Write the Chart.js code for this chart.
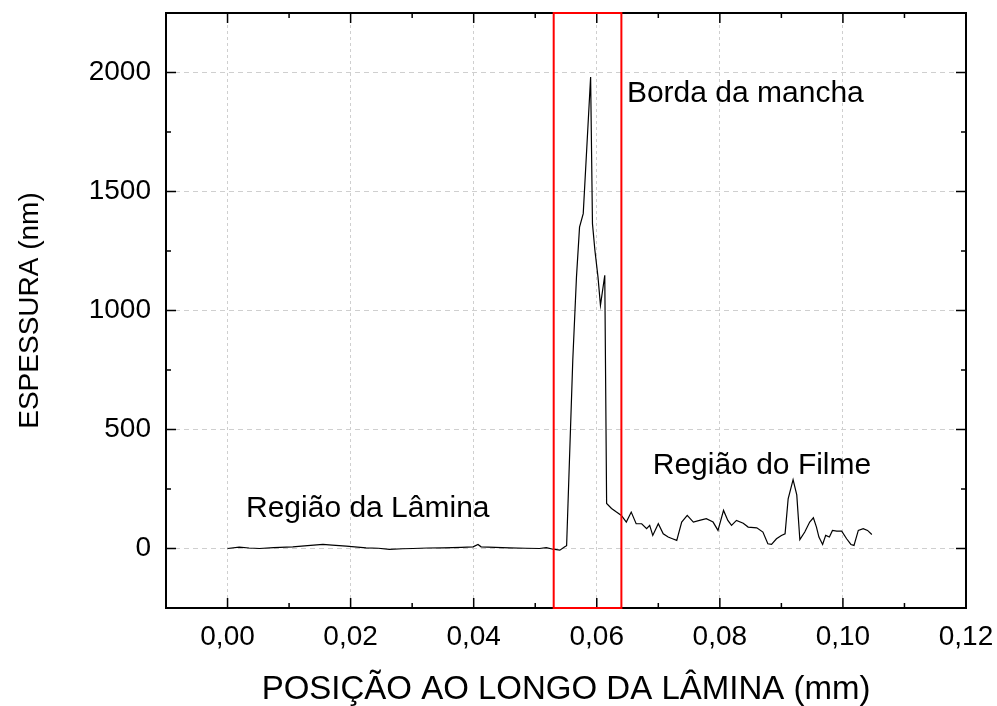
<!DOCTYPE html>
<html>
<head>
<meta charset="utf-8">
<script src="https://cdn.jsdelivr.net/npm/chart.js@4/dist/chart.umd.min.js"></script>
<style>
  html, body { margin: 0; padding: 0; background: #fff; }
  canvas { display: block; }
</style>
</head>
<body>
<canvas id="perfil" width="997" height="706"></canvas>
<script>
// posição ao longo da lâmina (mm)
const posicao = [
  0.0000, 0.0019, 0.0035, 0.0052, 0.0075, 0.0106, 0.0130, 0.0155, 0.0170, 0.0193,
  0.0225, 0.0245, 0.0263, 0.0285, 0.0301, 0.0325, 0.0350, 0.0380, 0.0399, 0.0407,
  0.0412, 0.0435, 0.0458, 0.0485, 0.0507, 0.0518, 0.0529, 0.0540, 0.0548,
  0.0551, 0.0561, 0.0567, 0.0572, 0.0578, 0.0590, 0.0593, 0.0597, 0.0602, 0.0606,
  0.0613, 0.0616, 0.0624, 0.0632, 0.0640, 0.0648, 0.0656, 0.0664, 0.0673, 0.0681,
  0.0686, 0.0691, 0.0700, 0.0708, 0.0716, 0.0723, 0.0730, 0.0738, 0.0747, 0.0757,
  0.0767, 0.0778, 0.0789, 0.0797, 0.0806, 0.0813, 0.0819, 0.0827, 0.0838, 0.0846,
  0.0860, 0.0870, 0.0878, 0.0884, 0.0892, 0.0900, 0.0906, 0.0911, 0.0919, 0.0925,
  0.0930, 0.0938, 0.0946, 0.0952, 0.0957, 0.0961, 0.0967, 0.0972, 0.0978, 0.0983,
  0.0990, 0.0998, 0.1006, 0.1013, 0.1018, 0.1025, 0.1033, 0.1040, 0.1047
];

// espessura (nm)
const espessura = [
  0, 6, 2, 0, 4, 7, 12, 17, 14, 10,
  3, 1, -4, -1, 0, 2, 3, 5, 7, 17,
  7, 5, 3, 1, 0, 4, -3, -7, 7,
  12, 790, 1140, 1350, 1407, 1981, 1365, 1252, 1140, 1022,
  1148, 189, 168, 153, 139, 111, 153, 104, 104, 83,
  97, 55, 104, 62, 48, 41, 34, 111, 139, 111,
  118, 125, 111, 76, 160, 118, 97, 118, 106, 90,
  87, 69, 20, 17, 41, 55, 62, 209, 289, 225,
  37, 69, 111, 129, 90, 48, 17, 55, 48, 76,
  73, 73, 41, 17, 13, 76, 83, 76, 59
];

// região destacada (retângulo vermelho)
const bordaInicio = 0.053;
const bordaFim = 0.064;

// textos dentro do gráfico: [texto, x (mm), y (nm)]
const rotulos = [
  ['Borda da mancha', 0.0649, 1877],
  ['Região do Filme', 0.0691, 311],
  ['Região da Lâmina', 0.0030, 133]
];

const xMin = -0.01, xMax = 0.12, xPasso = 0.01;
const yMin = -250, yMax = 2250, yPasso = 250;

const fonte = 'Arial, "Liberation Sans", sans-serif';

function isMajorX(v) {
  return Math.round(v * 100) % 2 === 0;
}
function isMajorY(v) {
  return Math.round(v) % 500 === 0;
}

const molduraPlugin = {
  id: 'moldura',
  afterDatasetsDraw(chart) {
    const { ctx, chartArea: a, scales: { x, y } } = chart;
    ctx.save();

    // ticks internos nos quatro lados
    ctx.strokeStyle = '#000';
    ctx.lineWidth = 1.5;
    ctx.beginPath();
    x.ticks.forEach(t => {
      const px = x.getPixelForValue(t.value);
      const len = isMajorX(t.value) ? 10 : 5;
      ctx.moveTo(px, a.bottom);
      ctx.lineTo(px, a.bottom - len);
      ctx.moveTo(px, a.top);
      ctx.lineTo(px, a.top + len);
    });
    y.ticks.forEach(t => {
      const py = y.getPixelForValue(t.value);
      const len = isMajorY(t.value) ? 10 : 5;
      ctx.moveTo(a.left, py);
      ctx.lineTo(a.left + len, py);
      ctx.moveTo(a.right, py);
      ctx.lineTo(a.right - len, py);
    });
    ctx.stroke();

    ctx.lineWidth = 2;
    ctx.strokeRect(a.left, a.top, a.right - a.left, a.bottom - a.top);

    // retângulo vermelho
    const x0 = x.getPixelForValue(bordaInicio);
    const x1 = x.getPixelForValue(bordaFim);
    ctx.strokeStyle = '#ff0000';
    ctx.lineWidth = 2;
    ctx.strokeRect(x0, a.top, x1 - x0, a.bottom - a.top);

    // textos
    ctx.fillStyle = '#000';
    ctx.font = '30px ' + fonte;
    ctx.textAlign = 'left';
    ctx.textBaseline = 'alphabetic';
    rotulos.forEach(r => {
      ctx.fillText(r[0], x.getPixelForValue(r[1]), y.getPixelForValue(r[2]));
    });
    ctx.restore();
  }
};

new Chart(document.getElementById('perfil'), {
  type: 'line',
  data: {
    labels: posicao,
    datasets: [{
      data: posicao.map((p, i) => ({ x: p, y: espessura[i] })),
      borderColor: '#000',
      borderWidth: 1.2,
      pointRadius: 0,
      tension: 0,
      fill: false
    }]
  },
  options: {
    responsive: false,
    animation: false,
    devicePixelRatio: 1,
    layout: { padding: { top: 13, right: 31, left: 0, bottom: 0 } },
    plugins: {
      legend: { display: false },
      tooltip: { enabled: false }
    },
    scales: {
      x: {
        type: 'linear',
        min: xMin,
        max: xMax,
        afterFit(scale) {
          scale.height = 98;
          scale.paddingLeft = 0;
          scale.paddingRight = 0;
        },
        ticks: {
          stepSize: xPasso,
          autoSkip: false,
          maxRotation: 0,
          padding: 12,
          color: '#000',
          font: { family: fonte, size: 28 },
          callback: v => isMajorX(v) ? v.toFixed(2).replace('.', ',') : ''
        },
        grid: {
          drawTicks: false,
          lineWidth: 1,
          color: ctx => (ctx.tick && isMajorX(ctx.tick.value) && ctx.tick.value > xMin + 0.001 && ctx.tick.value < xMax - 0.001) ? '#cfcfcf' : 'rgba(0,0,0,0)'
        },
        border: { display: false, dash: [3, 3] },
        title: {
          display: true,
          text: 'POSIÇÃO AO LONGO DA LÂMINA (mm)',
          color: '#000',
          font: { family: fonte, size: 33, lineHeight: 1 },
          padding: { top: 0, bottom: 0 }
        }
      },
      y: {
        type: 'linear',
        min: yMin,
        max: yMax,
        afterFit(scale) {
          scale.width = 166;
          scale.paddingTop = 0;
          scale.paddingBottom = 0;
        },
        ticks: {
          stepSize: yPasso,
          autoSkip: false,
          padding: 15,
          color: '#000',
          font: { family: fonte, size: 28 },
          callback: v => isMajorY(v) ? String(v) : ''
        },
        grid: {
          drawTicks: false,
          lineWidth: 1,
          color: ctx => (ctx.tick && isMajorY(ctx.tick.value) && ctx.tick.value > yMin && ctx.tick.value < yMax) ? '#cfcfcf' : 'rgba(0,0,0,0)'
        },
        border: { display: false, dash: [5, 4] },
        title: {
          display: true,
          text: 'ESPESSURA (nm)',
          color: '#000',
          font: { family: fonte, size: 28, lineHeight: 1 },
          padding: { top: 16, bottom: 0 }
        }
      }
    }
  },
  plugins: [molduraPlugin]
});
</script>
</body>
</html>
